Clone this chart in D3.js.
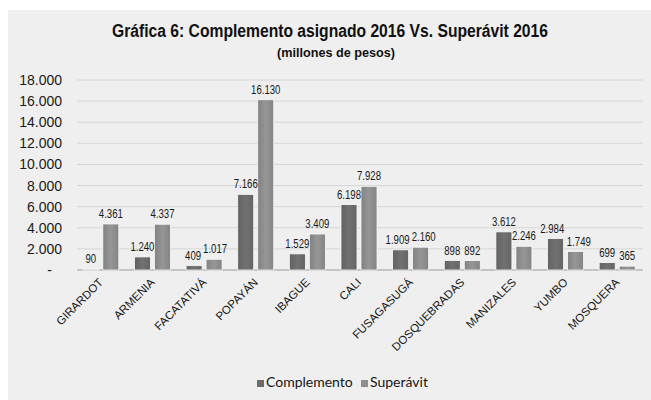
<!DOCTYPE html>
<html>
<head>
<meta charset="utf-8">
<script src="https://cdn.jsdelivr.net/npm/d3@7"></script>
<style>
  body { margin: 0; background: #fff; }
</style>
</head>
<body>
<div id="chart"></div>
<script>
// values (millones de pesos)
const categories = ['GIRARDOT', 'ARMENIA', 'FACATATIVÁ', 'POPAYÁN', 'IBAGUE', 'CALI',
  'FUSAGASUGÁ', 'DOSQUEBRADAS', 'MANIZALES', 'YUMBO', 'MOSQUERA'];
const complemento = [90, 1240, 409, 7166, 1529, 6198, 1909, 898, 3612, 2984, 699];
const superavit = [4361, 4337, 1017, 16130, 3409, 7928, 2160, 892, 2246, 1749, 365];
const seriesNames = ['Complemento', 'Superávit'];
const seriesColors = ['#6b6b6b', '#8e8e8e'];
const yTicks = [0, 2000, 4000, 6000, 8000, 10000, 12000, 14000, 16000, 18000];

const width = 651;
const height = 400;

const svg = d3.select('#chart')
  .append('svg')
    .attr('width', width)
    .attr('height', height);

// scanned page tone
svg.append('rect')
  .attr('x', 8).attr('y', 10)
  .attr('width', width - 8).attr('height', height - 10)
  .attr('fill', '#efefef');

// gradient per series, the scan shows a soft vertical shading
const defs = svg.append('defs');
seriesColors.forEach((c, i) => {
  const g = defs.append('linearGradient')
    .attr('id', 'grad' + i)
    .attr('x1', 0).attr('x2', 1).attr('y1', 0).attr('y2', 0);
  g.append('stop').attr('offset', '0%').attr('stop-color', d3.color(c).darker(0.25));
  g.append('stop').attr('offset', '50%').attr('stop-color', d3.color(c).brighter(0.15));
  g.append('stop').attr('offset', '100%').attr('stop-color', d3.color(c).darker(0.2));
});

const x = d3.scaleBand()
  .domain(categories)
  .range([75, 643]);

const x1 = d3.scaleBand()
  .domain(seriesNames)
  .range([0, x.bandwidth()])
  .paddingInner(0.2)
  .paddingOuter(0.39);

const y = d3.scaleLinear()
  .domain([0, 18000])
  .range([270, 80]);

const fmt = d3.formatLocale({ decimal: ',', thousands: '.', grouping: [3], currency: ['$', ''] }).format(',d');

// grid
svg.append('g')
  .selectAll('line')
  .data(yTicks)
  .join('line')
    .attr('x1', 77).attr('x2', 643)
    .attr('y1', d => y(d)).attr('y2', d => y(d))
    .attr('stroke', d => d === 0 ? '#9a9a9a' : '#d6d6d6')
    .attr('stroke-width', 1);

// y axis labels, zero shows as a dash like the Excel accounting format
const yAxis = d3.axisLeft(y)
  .tickValues(yTicks)
  .tickSize(0)
  .tickPadding(0)
  .tickFormat(d => d === 0 ? '-' : fmt(d));

svg.append('g')
  .attr('transform', 'translate(62,0)')
  .call(yAxis)
  .call(g => g.select('.domain').remove())
  .call(g => g.selectAll('text')
    .attr('font-family', '"Liberation Sans Narrow", "Liberation Sans", sans-serif')
    .attr('font-size', 14)
    .attr('fill', '#1a1a1a')
    .attr('dx', d => d === 0 ? -10 : 0));

// bars
const groups = svg.append('g')
  .selectAll('g')
  .data(categories)
  .join('g')
    .attr('transform', d => `translate(${x(d)},0)`);

const rows = (d, i) => [
  { s: 0, name: seriesNames[0], v: complemento[i] },
  { s: 1, name: seriesNames[1], v: superavit[i] }
];

groups.selectAll('rect')
  .data(rows)
  .join('rect')
    .attr('x', d => x1(d.name))
    .attr('y', d => y(d.v))
    .attr('width', x1.bandwidth())
    .attr('height', d => y(0) - y(d.v))
    .attr('fill', d => `url(#grad${d.s})`)
    .attr('stroke', '#fafafa')
    .attr('stroke-width', 0.8);

// value labels, squeezed like the condensed font in the scan
const lx = d => x1(d.name) + x1.bandwidth() / 2;
const ly = d => y(d.v) - 6;
groups.selectAll('text')
  .data(rows)
  .join('text')
    .attr('transform', d => `translate(${lx(d)},${ly(d)}) scale(0.74,1)`)
    .attr('text-anchor', 'middle')
    .attr('font-family', '"Liberation Sans Narrow", "Liberation Sans", sans-serif')
    .attr('font-size', 13)
    .attr('fill', '#1a1a1a')
    .text(d => fmt(d.v));

// push apart the two labels of a group when they collide (fusagasugá)
groups.each(function () {
  const t = d3.select(this).selectAll('text').nodes();
  const a = t[0].getBoundingClientRect(), b = t[1].getBoundingClientRect();
  const overX = a.right - b.left;
  const overY = Math.min(a.bottom, b.bottom) - Math.max(a.top, b.top);
  if (overX > 0 && overY > 0) {
    const shift = overX / 2 + 1;
    d3.select(t[0]).attr('transform', d => `translate(${lx(d) - shift},${ly(d)}) scale(0.74,1)`);
    d3.select(t[1]).attr('transform', d => `translate(${lx(d) + shift},${ly(d)}) scale(0.74,1)`);
  }
});

// category labels, rotated
svg.append('g')
  .selectAll('text')
  .data(categories)
  .join('text')
    .attr('transform', d => `translate(${x(d) + x.bandwidth() / 2 + 3},283) rotate(-45)`)
    .attr('text-anchor', 'end')
    .attr('font-family', '"Liberation Sans Narrow", "Liberation Sans", sans-serif')
    .attr('font-size', 11.5)
    .attr('fill', '#151515')
    .text(d => d);

// title
svg.append('text')
  .attr('x', 112).attr('y', 37)
  .attr('textLength', 436)
  .attr('lengthAdjust', 'spacingAndGlyphs')
  .attr('font-family', '"Liberation Sans", Arial, sans-serif')
  .attr('font-weight', 'bold')
  .attr('font-size', 18)
  .attr('fill', '#111')
  .text('Gráfica 6: Complemento asignado 2016 Vs. Superávit 2016');

svg.append('text')
  .attr('x', 277).attr('y', 57)
  .attr('textLength', 118)
  .attr('lengthAdjust', 'spacingAndGlyphs')
  .attr('font-family', '"Liberation Sans", Arial, sans-serif')
  .attr('font-weight', 'bold')
  .attr('font-size', 13)
  .attr('fill', '#111')
  .text('(millones de pesos)');

// legend
const legendX = [257, 361];
const legend = svg.append('g')
  .selectAll('g')
  .data(seriesNames)
  .join('g')
    .attr('transform', (d, i) => `translate(${legendX[i]},381)`);

legend.append('rect')
  .attr('width', 7).attr('height', 7)
  .attr('y', -1)
  .attr('fill', (d, i) => seriesColors[i]);

legend.append('text')
  .attr('x', 9).attr('y', 6)
  .attr('font-family', 'Lato, "Open Sans", sans-serif')
  .attr('font-size', 14)
  .attr('fill', '#151515')
  .text(d => d);
</script>
</body>
</html>
